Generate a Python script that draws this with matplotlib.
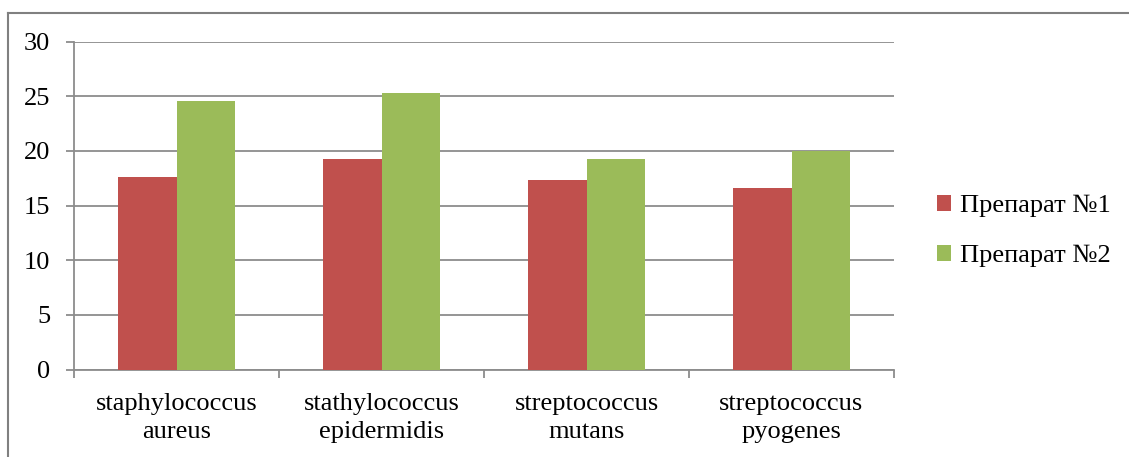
import matplotlib
matplotlib.use('Agg')
import matplotlib.pyplot as plt
from matplotlib.lines import Line2D
import numpy as np

plt.rcParams['font.family'] = ['Liberation Serif', 'DejaVu Serif']

categories = ['staphylococcus\naureus', 'stathylococcus\nepidermidis',
              'streptococcus\nmutans', 'streptococcus\npyogenes']
prep1 = [17.6, 19.3, 17.3, 16.6]
prep2 = [24.6, 25.3, 19.3, 20.0]
series_names = ['Препарат №1', 'Препарат №2']

red = '#C0504D'
green = '#9BBB59'
grid_gray = '#8C8C8C'

W, H = 1129, 457
fig = plt.figure(figsize=(W / 100, H / 100), dpi=100)
ax = fig.add_axes([74 / W, 1 - 369.5 / H, (894 - 74) / W, (369.5 - 41.7) / H])

x = np.arange(len(categories))
bw = 1 / 3.5
ax.bar(x - bw / 2, prep1, bw, color=red, edgecolor='none', label=series_names[0], zorder=3)
ax.bar(x + bw / 2, prep2, bw, color=green, edgecolor='none', label=series_names[1], zorder=3)

ax.set_xlim(-0.5, len(categories) - 0.5)
ax.set_ylim(0, 30)
ax.set_yticks(range(0, 31, 5))
ax.yaxis.grid(True, color=grid_gray, linewidth=1.3, zorder=0)
ax.set_axisbelow(True)

ax.set_xticks(x)
ax.set_xticklabels(categories, fontsize=19, linespacing=1.35)
ax.set_xticks(np.arange(-0.5, len(categories), 1), minor=True)
ax.tick_params(axis='x', which='major', length=0, pad=17)
ax.tick_params(axis='x', which='minor', length=6, width=1.3, color=grid_gray, direction='out')
ax.tick_params(axis='y', length=6, width=1.3, color=grid_gray, labelsize=19, pad=11)

for s in ['top', 'right']:
    ax.spines[s].set_visible(False)
for s in ['left', 'bottom']:
    ax.spines[s].set_color(grid_gray)
    ax.spines[s].set_linewidth(1.3)

fig.legend(loc='center left', bbox_to_anchor=(913 / W, 1 - 231 / H), frameon=False,
           fontsize=19, handlelength=0.55, handleheight=0.55, handletextpad=0.35,
           labelspacing=1.05)

# chart frame
fig.add_artist(Line2D([7.5 / W, 1], [1 - 12.5 / H, 1 - 12.5 / H], color='#808080', lw=1.5))
fig.add_artist(Line2D([7.5 / W, 7.5 / W], [0, 1 - 12.5 / H], color='#808080', lw=1.5))

fig.savefig('out.png', dpi=100)
